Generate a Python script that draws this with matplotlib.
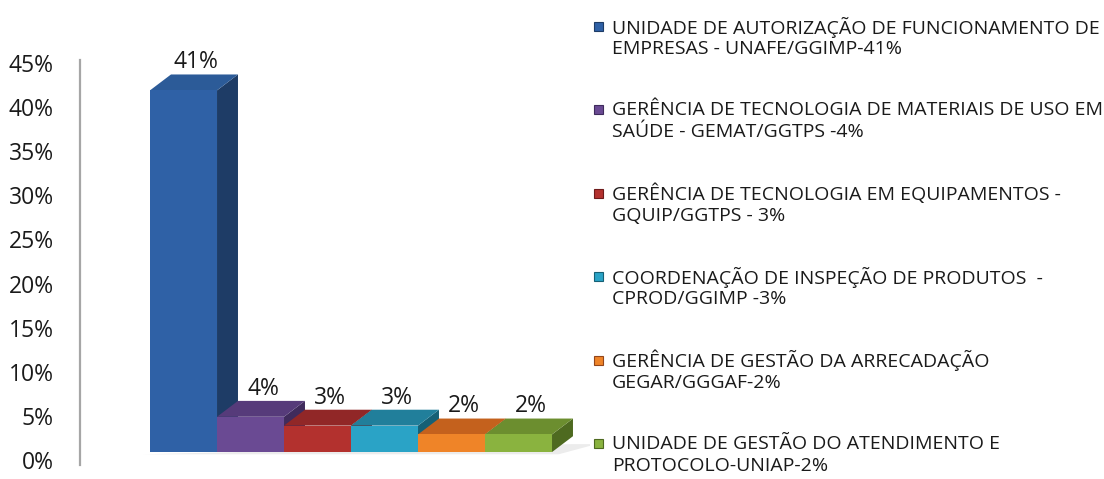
import matplotlib
matplotlib.use("Agg")
import matplotlib.pyplot as plt
from matplotlib.patches import Polygon, Rectangle
from matplotlib.ticker import FuncFormatter

plt.rcParams["font.family"] = ["Open Sans", "DejaVu Sans"]

# data
values = [41, 4, 3, 3, 2, 2]
value_labels = ["41%", "4%", "3%", "3%", "2%", "2%"]
legend_labels = [
    "UNIDADE DE AUTORIZAÇÃO DE FUNCIONAMENTO DE\nEMPRESAS - UNAFE/GGIMP-41%",
    "GERÊNCIA DE TECNOLOGIA DE MATERIAIS DE USO EM\nSAÚDE - GEMAT/GGTPS -4%",
    "GERÊNCIA DE TECNOLOGIA EM EQUIPAMENTOS -\nGQUIP/GGTPS - 3%",
    "COORDENAÇÃO DE INSPEÇÃO DE PRODUTOS  -\nCPROD/GGIMP -3%",
    "GERÊNCIA DE GESTÃO DA ARRECADAÇÃO\nGEGAR/GGGAF-2%",
    "UNIDADE DE GESTÃO DO ATENDIMENTO E\nPROTOCOLO-UNIAP-2%",
]
yticks = [0, 5, 10, 15, 20, 25, 30, 35, 40, 45]

# front, top, side colours per bar
front_colors = ["#2F61A6", "#6A4A93", "#B3312E", "#2AA3C6", "#EF8428", "#8AB33F"]
top_colors = ["#2C5B98", "#563B7A", "#912727", "#217F9B", "#C4611D", "#6C8E2F"]
side_colors = ["#1E3C66", "#3F2B5C", "#6E1B1B", "#166075", "#93461A", "#4E6A20"]

W, H = 1104, 479
fig = plt.figure(figsize=(W / 100, H / 100), dpi=100)
ax = fig.add_axes([80 / W, 0.0286, 510 / W, 0.8454])

base = 0.9   # floor lift of the front face
dx = 0.313   # depth in x (bar widths)
dy = 1.8     # depth in y (%)
half = 0.5

ax.set_xlim(-1.545, 6.067)
ax.set_ylim(-0.6, 45.3)

# soft floor shadow
n = len(values)
shadow = Polygon([(-0.6, base - 0.25), (n - 0.5 + 0.1, base - 0.25),
                  (n - 0.5 + dx + 0.35, base + dy * 0.5), (n - 0.5 + dx, base + dy * 0.5)],
                 closed=True, facecolor="#ECECEC", edgecolor="none", zorder=1)
ax.add_patch(shadow)

for i, v in enumerate(values):
    x0, x1 = i - half, i + half
    y0, y1 = base, base + v
    side = Polygon([(x1, y0), (x1 + dx, y0 + dy), (x1 + dx, y1 + dy), (x1, y1)],
                   closed=True, facecolor=side_colors[i], edgecolor="none", zorder=2 + i)
    top = Polygon([(x0, y1), (x1, y1), (x1 + dx, y1 + dy), (x0 + dx, y1 + dy)],
                  closed=True, facecolor=top_colors[i], edgecolor="none", zorder=2 + i)
    front = Rectangle((x0, y0), 1, v, facecolor=front_colors[i],
                      edgecolor="none", zorder=2 + i)
    ax.add_patch(side)
    ax.add_patch(top)
    ax.add_patch(front)
    ax.text(i + dx * 0.6, y1 + dy + 0.7, value_labels[i], ha="center",
            va="baseline", fontsize=16.5, color="#1a1a1a", zorder=20)

ax.set_yticks(yticks)
ax.yaxis.set_major_formatter(FuncFormatter(lambda t, p: f"{t:.0f}%"))
ax.tick_params(axis="y", length=0, pad=19, labelsize=16.5, labelcolor="#1a1a1a")
ax.set_xticks([])
for s in ["top", "right", "bottom"]:
    ax.spines[s].set_visible(False)
ax.spines["left"].set_color("#A6A6A6")
ax.spines["left"].set_linewidth(1.6)

# legend
leg_x = 612
first_y = 27
step = 83.4
line_gap = 22
for i, lab in enumerate(legend_labels):
    yc = first_y + step * i
    fig.patches.append(Rectangle(((leg_x - 18) / W, 1 - (yc + 4) / H), 9 / W, 9 / H,
                                 transform=fig.transFigure, facecolor=front_colors[i],
                                 edgecolor=side_colors[i], linewidth=0.8))
    for j, line in enumerate(lab.split("\n")):
        fig.text(leg_x / W, 1 - (yc + j * line_gap) / H, line, ha="left",
                 va="center", fontsize=14, color="#1a1a1a")

fig.savefig("out.png", dpi=100)
